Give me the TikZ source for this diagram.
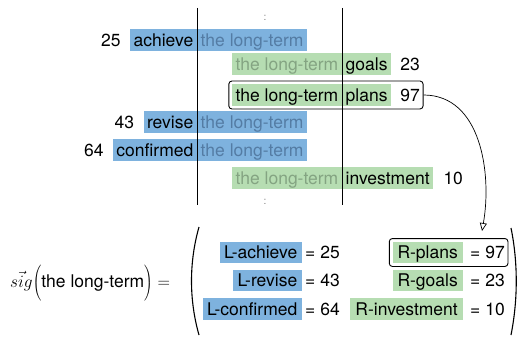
\documentclass[tikz,border=0pt]{standalone}
\usepackage{fontspec}
\setmainfont{TeX Gyre Heros}
\usetikzlibrary{arrows.meta,fit,calc}
\definecolor{bluebox}{RGB}{126,178,222}
\definecolor{greenbox}{RGB}{182,221,178}
\definecolor{bluetxt}{RGB}{84,124,164}
\definecolor{greentxt}{RGB}{132,164,130}
\begin{document}
\begin{tikzpicture}[x=1pt,y=-1pt,
  font=\fontsize{17.5}{21}\selectfont,
  cell/.style={inner xsep=3.5pt, inner ysep=0pt, text height=17pt, text depth=4.5pt},
  bcell/.style={cell, fill=bluebox},
  gcell/.style={cell, fill=greenbox},
  num/.style={cell, inner xsep=0pt},
  frm/.style={draw, line width=0.9pt, rounded corners=3pt, inner sep=3pt},
  dotsnode/.style={text=gray, font=\fontsize{10}{10}\selectfont, inner sep=0pt},
  vline/.style={line width=0.8pt},
  paren/.style={line width=1.1pt}]
\useasboundingbox (0,0) rectangle (517,337);

% boxes of the top part
\node[bcell, anchor=east] (w1) at (197,40) {achieve};
\node[bcell, anchor=west, text=bluetxt] (t1) at (197,40) {the long-term};
\node[num, anchor=east] (n1) at ([xshift=-9pt]w1.west) {25};

\node[gcell, anchor=east, text=greentxt] (t2) at (342,64) {the long-term};
\node[gcell, anchor=west] (w2) at (342,64) {goals};
\node[num, anchor=west] (n2) at ([xshift=9pt]w2.east) {23};

\node[gcell, anchor=east] (t3) at (342,95) {the long-term};
\node[gcell, anchor=west] (w3) at (342,95) {plans};
\node[num, anchor=west] (n3) at ([xshift=9pt]w3.east) {97};
\node[frm, fit=(t3)(w3)(n3)] (f3) {};

\node[bcell, anchor=east] (w4) at (197,122) {revise};
\node[bcell, anchor=west, text=bluetxt] (t4) at (197,122) {the long-term};
\node[num, anchor=east] (n4) at ([xshift=-9pt]w4.west) {43};

\node[bcell, anchor=east] (w5) at (197,150) {confirmed};
\node[bcell, anchor=west, text=bluetxt] (t5) at (197,150) {the long-term};
\node[num, anchor=east] (n5) at ([xshift=-9pt]w5.west) {64};

\node[gcell, anchor=east, text=greentxt] (t6) at (342,178) {the long-term};
\node[gcell, anchor=west] (w6) at (342,178) {investment};
\node[num, anchor=west] (n6) at ([xshift=10pt]w6.east) {10};

% vertical lines and dots
\coordinate (la) at (197,8);
\coordinate (lb) at (197,205);
\coordinate (ra) at (342,8);
\coordinate (rb) at (342,205);
\draw[vline] (la) -- (lb);
\draw[vline] (ra) -- (rb);
\node[dotsnode] (d1) at (265,18) {:};
\node[dotsnode] (d2) at (265,202) {:};

% formula
\node[anchor=base west, inner sep=0pt] (sig) at (10,287)
  {$\vec{sig}{\left(\rule[-11pt]{0pt}{32pt}\mbox{the long-term}\right)} =$};

% big parentheses
\draw[paren] (199,227) .. controls (189,262) and (189,300) .. (199,335);
\draw[paren] (511,228) .. controls (518,262) and (518,300) .. (511,335);

% left column
\node[bcell, anchor=east, inner xsep=4.5pt] (lA) at (302,252.5) {L-achieve};
\node[num, anchor=west] (lAv) at ([xshift=3pt]lA.east) {= 25};
\node[bcell, anchor=east, inner xsep=4.5pt] (lR) at (302,280.5) {L-revise};
\node[num, anchor=west] (lRv) at ([xshift=3pt]lR.east) {= 43};
\node[bcell, anchor=east, inner xsep=4.5pt] (lC) at (302,309) {L-confirmed};
\node[num, anchor=west] (lCv) at ([xshift=3pt]lC.east) {= 64};

% right column
\node[gcell, anchor=east, inner xsep=5pt] (rP) at (463,252.5) {R-plans\hspace{3pt}};
\node[num, anchor=west] (rPv) at ([xshift=7pt]rP.east) {= 97};
\node[frm, fit=(rP)(rPv)] (fr) {};
\node[gcell, anchor=east, inner xsep=5pt] (rG) at (463,280.5) {R-goals\hspace{3pt}};
\node[num, anchor=west] (rGv) at ([xshift=7pt]rG.east) {= 23};
\node[gcell, anchor=east, inner xsep=5pt] (rI) at (463,309) {R-investment\hspace{3pt}};
\node[num, anchor=west] (rIv) at ([xshift=7pt]rI.east) {= 10};

% arrow
\coordinate (tip) at (482,231);
\draw[line width=0.7pt, -{Triangle[open,length=8pt,width=7pt]}]
  (f3.east) to[out=0,in=80] (tip);
\end{tikzpicture}
\end{document}
